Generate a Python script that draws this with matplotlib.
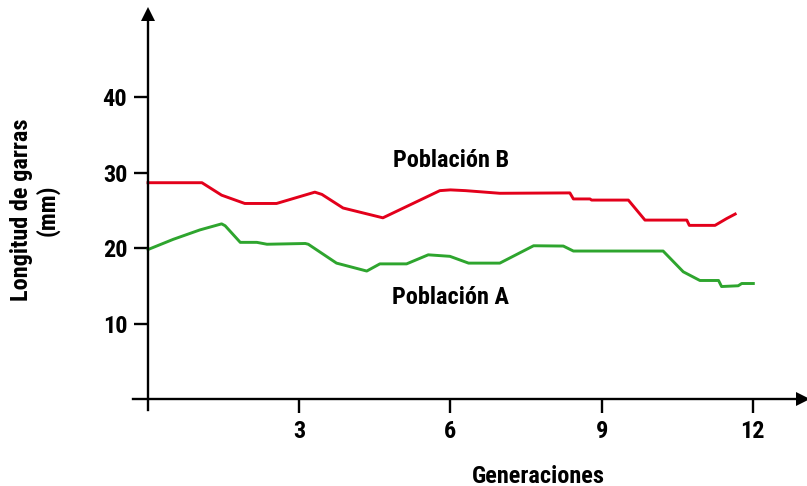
import matplotlib.pyplot as plt
from matplotlib import font_manager

# -----------------------------
# Data: claw length per generation
# -----------------------------
gen_b = [0.0, 1.07, 1.46, 1.92, 2.55, 3.31, 3.45, 3.87, 4.66, 5.79, 6.0, 6.3, 6.98,
         8.37, 8.44, 8.77, 8.80, 9.53, 9.86, 10.69, 10.74, 11.25, 11.48, 11.65]
len_b = [28.65, 28.65, 27.0, 25.9, 25.9, 27.4, 27.1, 25.3, 24.0, 27.6, 27.7, 27.6, 27.25,
         27.3, 26.5, 26.5, 26.35, 26.35, 23.7, 23.7, 23.0, 23.0, 23.9, 24.5]

gen_a = [0.0, 0.50, 1.03, 1.46, 1.53, 1.83, 2.16, 2.36, 3.12, 3.18, 3.74, 4.34, 4.60,
         5.13, 5.56, 5.99, 6.36, 6.98, 7.65, 8.24, 8.44, 10.22, 10.62, 10.95, 11.32,
         11.38, 11.71, 11.78, 12.01]
len_a = [19.8, 21.15, 22.4, 23.2, 22.95, 20.75, 20.75, 20.5, 20.6, 20.5, 18.0, 16.95, 17.9,
         17.9, 19.1, 18.9, 18.0, 18.0, 20.3, 20.26, 19.6, 19.6, 16.85, 15.7, 15.7,
         14.9, 15.0, 15.3, 15.3]

x_ticks = [3, 6, 9, 12]
y_ticks = [10, 20, 30, 40]

# -----------------------------
# Font: a narrow bold face if one is around
# -----------------------------
names = {f.name for f in font_manager.fontManager.ttflist}
family = "DejaVu Sans"
for cand in ["Liberation Sans Narrow", "Roboto Condensed", "Open Sans Condensed"]:
    if cand in names:
        family = cand
        break
plt.rcParams["font.family"] = [family, "DejaVu Sans"]
plt.rcParams["font.weight"] = "bold"
plt.rcParams["font.stretch"] = "condensed"

RED = "#e3001b"
GREEN = "#2ea52e"
FS = 17.5

fig = plt.figure(figsize=(8.07, 4.86), dpi=100)
ax = fig.add_axes([0, 0, 1, 1])
ax.set_xlim(-2.937, 13.075)
ax.set_ylim(-11.52, 52.85)

ax.plot(gen_b, len_b, color=RED, lw=2.1, solid_joinstyle="round")
ax.plot(gen_a, len_a, color=GREEN, lw=2.1, solid_joinstyle="round")

ax.text(6.02, 31.65, "Población B", ha="center", va="center", fontsize=FS, fontweight="bold")
ax.text(6.0, 13.5, "Población A", ha="center", va="center", fontsize=FS, fontweight="bold")

# Cross-shaped axes with arrow heads
for side in ["top", "right"]:
    ax.spines[side].set_visible(False)
ax.spines["left"].set_position(("data", 0))
ax.spines["bottom"].set_position(("data", 0))
ax.spines["left"].set_bounds(-1.5, 51.0)
ax.spines["bottom"].set_bounds(-0.3, 12.9)
for side in ["left", "bottom"]:
    ax.spines[side].set_linewidth(1.7)
ax.plot(13.0, 0, marker=">", ms=10, color="black", clip_on=False, mew=0)
ax.plot(0, 51.0, marker="^", ms=10, color="black", clip_on=False, mew=0)

ax.set_xticks(x_ticks)
ax.set_yticks(y_ticks)
ax.tick_params(axis="both", direction="out", length=10, width=1.7, labelsize=FS, pad=5)

fig.text(35 / 807, 1 - 210 / 486, "Longitud de garras\n(mm)", rotation=90,
         ha="center", va="center", multialignment="center", fontsize=FS, fontweight="bold",
         linespacing=1.1)
fig.text(538 / 807, 1 - 476 / 486, "Generaciones", ha="center", va="center",
         fontsize=FS, fontweight="bold")

fig.savefig("out.png", dpi=100)
